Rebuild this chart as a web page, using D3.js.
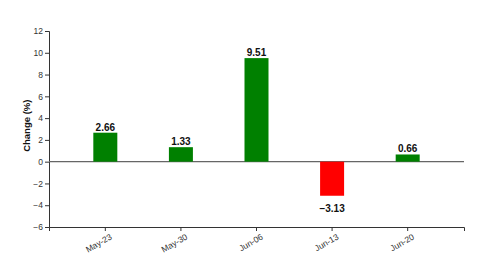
<!DOCTYPE html>
<html>
<head>
<meta charset="utf-8">
<script src="https://cdn.jsdelivr.net/npm/d3@7"></script>
<style>
  body { margin: 0; background: #fff; }
  svg { display: block; font-family: "Liberation Sans", Arial, sans-serif; }
  .axis text { fill: #333; font-size: 8.5px; }
  .axis path, .axis line { stroke: #333; }
  .val { font-size: 10px; font-weight: bold; fill: #111; }
</style>
</head>
<body>
<div id="chart"></div>
<script>
const dates = ['May-23', 'May-30', 'Jun-06', 'Jun-13', 'Jun-20'];
const changes = [2.66, 1.33, 9.51, -3.13, 0.66];
const yTicks = [-6, -4, -2, 0, 2, 4, 6, 8, 10, 12];

const W = 497, H = 269;
const margin = {top: 31, right: 33, bottom: 42, left: 49};
const width = W - margin.left - margin.right;
const height = H - margin.top - margin.bottom;
const BAR_W = 24;

const svg = d3.select('#chart')
  .append('svg')
  .attr('width', W)
  .attr('height', H)
  .append('g')
  .attr('transform', 'translate(' + margin.left + ',' + margin.top + ')');

const x = d3.scaleBand()
  .domain(dates)
  .range([0, width])
  .paddingInner(0.68)
  .paddingOuter(0.585);

const y = d3.scaleLinear()
  .domain([-6, 12])
  .range([height, 0]);

const fmt = d3.format('.2f');

svg.append('g')
  .attr('class', 'axis y-axis')
  .call(d3.axisLeft(y).tickValues(yTicks).tickSize(4).tickPadding(2));

svg.append('g')
  .attr('class', 'axis x-axis')
  .attr('transform', 'translate(0,' + height + ')')
  .call(d3.axisBottom(x).tickSize(4).tickPadding(2))
  .selectAll('text')
  .attr('text-anchor', 'end')
  .attr('dx', '0.05em')
  .attr('dy', '0.9em')
  .attr('transform', 'rotate(-30)');

svg.append('line')
  .attr('x1', 0)
  .attr('x2', width)
  .attr('y1', y(0))
  .attr('y2', y(0))
  .attr('stroke', '#666')
  .attr('stroke-width', 1.2);

const cx = d => x(d) + x.bandwidth() / 2;

svg.selectAll('.bar')
  .data(changes)
  .enter()
  .append('rect')
  .attr('class', 'bar')
  .attr('x', (d, i) => cx(dates[i]) - BAR_W / 2)
  .attr('width', BAR_W)
  .attr('y', d => y(Math.max(0, d)))
  .attr('height', d => Math.abs(y(d) - y(0)))
  .attr('fill', d => d >= 0 ? 'green' : 'red');

svg.selectAll('.val')
  .data(changes)
  .enter()
  .append('text')
  .attr('class', 'val')
  .attr('text-anchor', 'middle')
  .attr('x', (d, i) => cx(dates[i]))
  .attr('y', d => d >= 0 ? y(d) - 2 : y(d) + 16)
  .text(d => fmt(d).replace('-', '\u2212'));

svg.append('text')
  .attr('transform', 'rotate(-90)')
  .attr('x', -y(3.3))
  .attr('y', -19)
  .attr('text-anchor', 'middle')
  .attr('font-size', '9.5px')
  .attr('font-weight', 'bold')
  .attr('fill', '#111')
  .text('Change (%)');
</script>
</body>
</html>
